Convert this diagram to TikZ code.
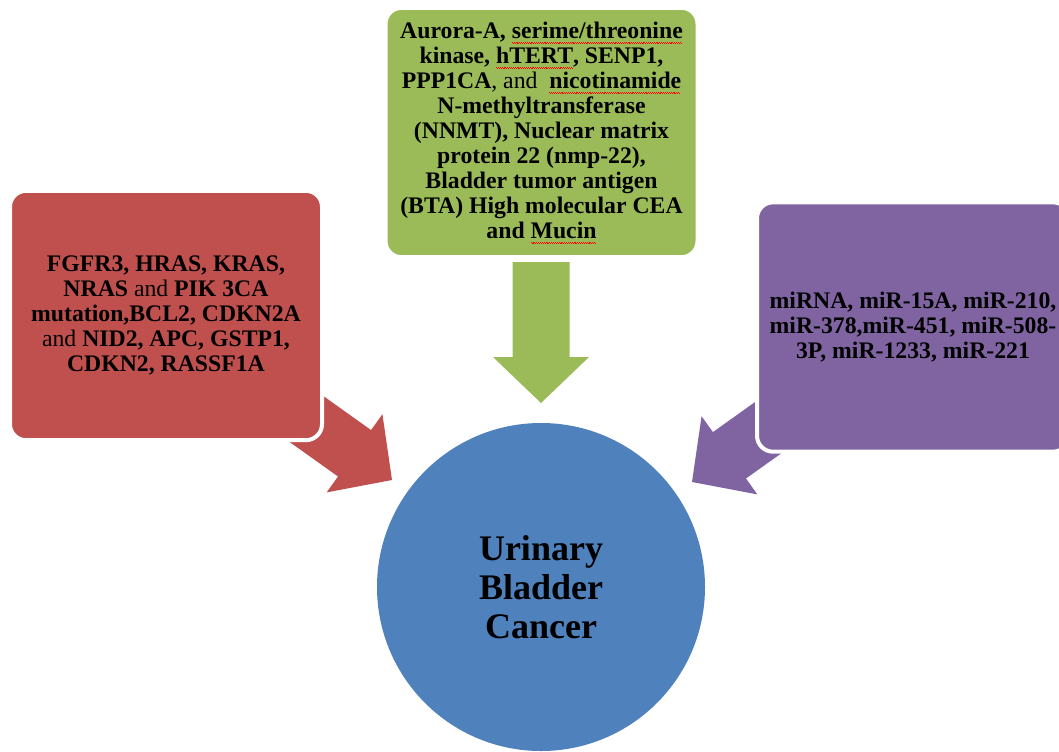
\documentclass[tikz,border=0pt]{standalone}
\usepackage{fontspec}
\setmainfont{Liberation Serif}
\definecolor{rojo}{HTML}{C0504D}
\definecolor{verde}{HTML}{9BBB59}
\definecolor{morado}{HTML}{8064A2}
\definecolor{azul}{HTML}{4F81BD}
\newsavebox\palabra
\newcommand\spellerr[1]{\sbox\palabra{#1}%
  \rlap{\hbox to\wd\palabra{\color{red}\leaders\hbox{\rule[-3.2pt]{0.7pt}{0.45pt}\rule[-3.8pt]{0.7pt}{0.45pt}}\hfill}}\usebox\palabra}
\begin{document}
\begin{tikzpicture}[x=0.75pt, y=-0.75pt,
    caja/.style={draw=white, line width=3pt, rounded corners=12pt, minimum width=234pt, minimum height=187pt, align=center, font=\fontsize{17.8}{18.75}\selectfont\bfseries},
    centro/.style={circle, fill=azul, inner sep=0pt, minimum size=246pt, align=center, font=\fontsize{27}{29.3}\selectfont\bfseries},
    pics/flecha/.style={code={\fill[#1] (0,0) -- (48,-46) -- (28.5,-46) -- (28.5,-141) -- (-28.5,-141) -- (-28.5,-46) -- (-48,-46) -- cycle;}}
  ]
  \path[use as bounding box] (0,0) rectangle (1059,751);
  \clip (0,0) rectangle (1059,751);

  % --- flechas ---
  \pic at (541,403) {flecha=verde};
  \pic[rotate=54.5] at (392,480) {flecha=rojo};
  \pic[rotate=-54.5] at (692,482) {flecha=morado};

  % --- cajas ---
  \node[caja, fill=rojo] (genes) at (166,315.5) {FGFR3, HRAS, KRAS,\\
    NRAS \textmd{and} PIK 3CA\\
    mutation,BCL2, CDKN2A\\
    \textmd{and} NID2, APC, GSTP1,\\
    CDKN2, RASSF1A};
  \node[caja, fill=verde] (proteinas) at (541.5,132.5) {Aurora-A, \spellerr{serime/threonine}\\
    kinase, \spellerr{hTERT}, SENP1,\\
    PPP1CA\textmd{, and}\ \ \spellerr{nicotinamide}\\
    N-methyltransferase\\
    (NNMT), Nuclear matrix\\
    protein 22 (nmp-22),\\
    Bladder tumor antigen\\
    (BTA) High molecular CEA\\
    and \spellerr{Mucin}};
  \node[caja, fill=morado] (mirna) at (913,327) {miRNA, miR-15A, miR-210,\\
    miR-378,miR-451, miR-508-\\
    3P, miR-1233, miR-221};

  % --- centro ---
  \node[centro] (cancer) at (541,587) {Urinary\\ Bladder\\ Cancer};
\end{tikzpicture}
\end{document}
